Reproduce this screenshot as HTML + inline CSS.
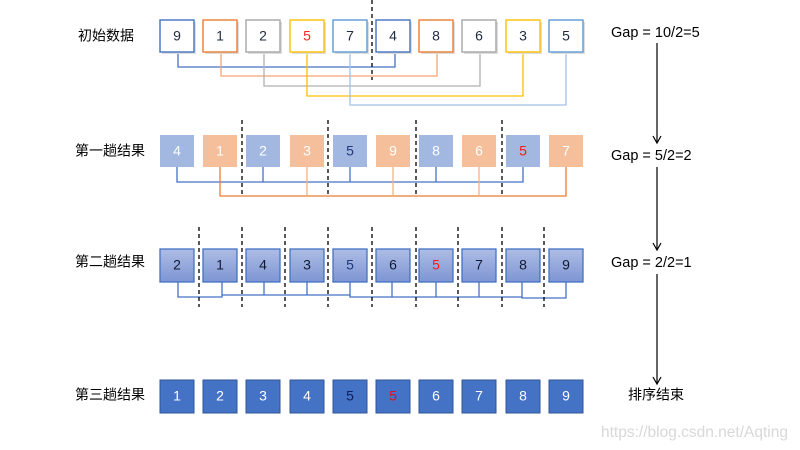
<!DOCTYPE html>
<html><head><meta charset="utf-8"><style>
body{margin:0;background:#fff;}
svg{display:block;}
text{font-family:"Liberation Sans","Noto Sans CJK SC",sans-serif;}
</style></head><body>
<svg width="800" height="450" viewBox="0 0 800 450" xmlns="http://www.w3.org/2000/svg">
<defs>
<linearGradient id="g3" x1="0" y1="0" x2="0" y2="1"><stop offset="0" stop-color="#aebde6"/><stop offset="1" stop-color="#7d95d3"/></linearGradient>
</defs>

<!-- labels -->
<g font-size="14" fill="#000" dominant-baseline="middle">
<text x="78" y="37">初始数据</text>
<text x="75" y="152">第一趟结果</text>
<text x="75" y="263">第二趟结果</text>
<text x="75" y="396">第三趟结果</text>
<text x="611" y="33" font-size="14.5">Gap = 10/2=5</text>
<text x="611" y="156" font-size="14.5">Gap = 5/2=2</text>
<text x="611" y="263" font-size="14.5">Gap = 2/2=1</text>
<text x="628" y="396">排序结束</text>
</g>
<text x="601" y="437" font-size="15.5" fill="#d8d8d8">https://blog.csdn.net/Aqting</text>

<!-- arrows -->
<g stroke="#000" stroke-width="1.2" fill="none">
<line x1="657" y1="43" x2="657" y2="143"/><polyline points="653,136 657,143 661,136"/>
<line x1="657" y1="167" x2="657" y2="250"/><polyline points="653,243 657,250 661,243"/>
<line x1="657" y1="274" x2="657" y2="384"/><polyline points="653,377 657,384 661,377"/>
</g>

<!-- Row 1 connectors -->
<g fill="none" stroke-width="1.3">
<polyline points="178,52 178,67 395,67 395,52" stroke="#4472c4"/>
<polyline points="221,52 221,76 437,76 437,52" stroke="#f4a470"/>
<polyline points="264,52 264,86 480,86 480,52" stroke="#b0b0b0"/>
<polyline points="307,52 307,96 523,96 523,52" stroke="#ffc000"/>
<polyline points="350,52 350,105 566,105 566,52" stroke="#a2c1e8"/>
</g>
<line x1="372" y1="0" x2="372" y2="80" stroke="#000" stroke-width="1.3" stroke-dasharray="4,3"/>

<!-- Row 1 boxes -->
<g stroke-width="1.4" fill="#fff">
<rect x="162" y="22" width="34" height="32" fill="#ddd" stroke="none"/>
<rect x="205" y="22" width="34" height="32" fill="#ddd" stroke="none"/>
<rect x="248" y="22" width="34" height="32" fill="#ddd" stroke="none"/>
<rect x="292" y="22" width="34" height="32" fill="#ddd" stroke="none"/>
<rect x="335" y="22" width="34" height="32" fill="#ddd" stroke="none"/>
<rect x="378" y="22" width="34" height="32" fill="#ddd" stroke="none"/>
<rect x="421" y="22" width="34" height="32" fill="#ddd" stroke="none"/>
<rect x="464" y="22" width="34" height="32" fill="#ddd" stroke="none"/>
<rect x="508" y="22" width="34" height="32" fill="#ddd" stroke="none"/>
<rect x="551" y="22" width="34" height="32" fill="#ddd" stroke="none"/>
<rect x="160" y="20" width="34" height="32" stroke="#4472c4"/>
<rect x="203" y="20" width="34" height="32" stroke="#ed7d31"/>
<rect x="246" y="20" width="34" height="32" stroke="#a5a5a5"/>
<rect x="290" y="20" width="34" height="32" stroke="#ffc000"/>
<rect x="333" y="20" width="34" height="32" stroke="#5b9bd5"/>
<rect x="376" y="20" width="34" height="32" stroke="#4472c4"/>
<rect x="419" y="20" width="34" height="32" stroke="#ed7d31"/>
<rect x="462" y="20" width="34" height="32" stroke="#a5a5a5"/>
<rect x="506" y="20" width="34" height="32" stroke="#ffc000"/>
<rect x="549" y="20" width="34" height="32" stroke="#5b9bd5"/>
</g>
<g font-size="14" text-anchor="middle" dominant-baseline="middle" fill="#1f2a44">
<text x="177" y="37">9</text><text x="220" y="37">1</text><text x="263" y="37">2</text>
<text x="307" y="37" fill="#ff2a2a">5</text><text x="350" y="37">7</text><text x="393" y="37">4</text>
<text x="436" y="37">8</text><text x="479" y="37">6</text><text x="523" y="37">3</text><text x="566" y="37">5</text>
</g>

<!-- Row 2 connectors -->
<g fill="none" stroke-width="1.3">
<polyline points="177,167 177,182 523,182 523,167" stroke="#4472c4"/>
<line x1="263" y1="167" x2="263" y2="182" stroke="#4472c4"/>
<line x1="350" y1="167" x2="350" y2="182" stroke="#4472c4"/>
<line x1="436" y1="167" x2="436" y2="182" stroke="#4472c4"/>
<polyline points="220,167 220,196 566,196 566,167" stroke="#ed7d31"/>
<line x1="307" y1="167" x2="307" y2="196" stroke="#f4b183"/>
<line x1="393" y1="167" x2="393" y2="196" stroke="#f4b183"/>
<line x1="479" y1="167" x2="479" y2="196" stroke="#f4b183"/>
</g>
<g stroke="#000" stroke-width="1.3" stroke-dasharray="4,3">
<line x1="242" y1="120" x2="242" y2="194"/><line x1="328" y1="120" x2="328" y2="194"/>
<line x1="416" y1="120" x2="416" y2="194"/><line x1="502" y1="120" x2="502" y2="194"/>
</g>
<!-- Row 2 boxes -->
<g>
<rect x="160" y="135" width="34" height="32" fill="#a2b8e1"/>
<rect x="203" y="135" width="34" height="32" fill="#f5bf9c"/>
<rect x="246" y="135" width="34" height="32" fill="#a2b8e1"/>
<rect x="290" y="135" width="34" height="32" fill="#f5bf9c"/>
<rect x="333" y="135" width="34" height="32" fill="#a2b8e1"/>
<rect x="376" y="135" width="34" height="32" fill="#f5bf9c"/>
<rect x="419" y="135" width="34" height="32" fill="#a2b8e1"/>
<rect x="462" y="135" width="34" height="32" fill="#f5bf9c"/>
<rect x="506" y="135" width="34" height="32" fill="#a2b8e1"/>
<rect x="549" y="135" width="34" height="32" fill="#f5bf9c"/>
</g>
<g font-size="14" text-anchor="middle" dominant-baseline="middle" fill="#fff">
<text x="177" y="152">4</text><text x="220" y="152">1</text><text x="263" y="152">2</text>
<text x="307" y="152">3</text><text x="350" y="152" fill="#1f3a7a">5</text><text x="393" y="152">9</text>
<text x="436" y="152">8</text><text x="479" y="152">6</text><text x="523" y="152" fill="#ff1a1a">5</text><text x="566" y="152">7</text>
</g>

<!-- Row 3 connectors -->
<g fill="none" stroke="#4472c4" stroke-width="1.3">
<polyline points="178,282 178,297 222,297 222,282"/>
<polyline points="222,295 350,295 350,282"/>
<line x1="264" y1="282" x2="264" y2="295"/>
<line x1="307" y1="282" x2="307" y2="295"/>
<polyline points="350,295 350,297 522,297 522,282"/>
<line x1="392" y1="282" x2="392" y2="297"/>
<line x1="436" y1="282" x2="436" y2="297"/>
<line x1="479" y1="282" x2="479" y2="297"/>
<polyline points="522,297 522,298 566,298 566,282"/>
</g>
<g stroke="#000" stroke-width="1.3" stroke-dasharray="4,3">
<line x1="199" y1="227" x2="199" y2="307"/><line x1="242" y1="227" x2="242" y2="307"/>
<line x1="285" y1="227" x2="285" y2="307"/><line x1="328" y1="227" x2="328" y2="307"/>
<line x1="372" y1="227" x2="372" y2="307"/><line x1="416" y1="227" x2="416" y2="307"/>
<line x1="458" y1="227" x2="458" y2="307"/><line x1="502" y1="227" x2="502" y2="307"/>
<line x1="544" y1="227" x2="544" y2="307"/>
</g>
<g fill="url(#g3)" stroke="#4472c4" stroke-width="1.3">
<rect x="160" y="249" width="34" height="33"/><rect x="203" y="249" width="34" height="33"/>
<rect x="246" y="249" width="34" height="33"/><rect x="290" y="249" width="34" height="33"/>
<rect x="333" y="249" width="34" height="33"/><rect x="376" y="249" width="34" height="33"/>
<rect x="419" y="249" width="34" height="33"/><rect x="462" y="249" width="34" height="33"/>
<rect x="506" y="249" width="34" height="33"/><rect x="549" y="249" width="34" height="33"/>
</g>
<g font-size="14" text-anchor="middle" dominant-baseline="middle" fill="#111a33">
<text x="177" y="266">2</text><text x="220" y="266">1</text><text x="263" y="266">4</text>
<text x="307" y="266">3</text><text x="350" y="266" fill="#1f3a7a">5</text><text x="393" y="266">6</text>
<text x="436" y="266" fill="#ff1a1a">5</text><text x="479" y="266">7</text><text x="523" y="266">8</text><text x="566" y="266">9</text>
</g>

<!-- Row 4 -->
<g fill="#4472c4" stroke="#2f5597" stroke-width="1">
<rect x="160" y="380" width="34" height="33"/><rect x="203" y="380" width="34" height="33"/>
<rect x="246" y="380" width="34" height="33"/><rect x="290" y="380" width="34" height="33"/>
<rect x="333" y="380" width="34" height="33"/><rect x="376" y="380" width="34" height="33"/>
<rect x="419" y="380" width="34" height="33"/><rect x="462" y="380" width="34" height="33"/>
<rect x="506" y="380" width="34" height="33"/><rect x="549" y="380" width="34" height="33"/>
</g>
<g font-size="14" text-anchor="middle" dominant-baseline="middle" fill="#fff">
<text x="177" y="397">1</text><text x="220" y="397">2</text><text x="263" y="397">3</text>
<text x="307" y="397">4</text><text x="350" y="397" fill="#0d1f5c">5</text><text x="393" y="397" fill="#e0102a">5</text>
<text x="436" y="397">6</text><text x="479" y="397">7</text><text x="523" y="397">8</text><text x="566" y="397">9</text>
</g>
</svg>
</body></html>
